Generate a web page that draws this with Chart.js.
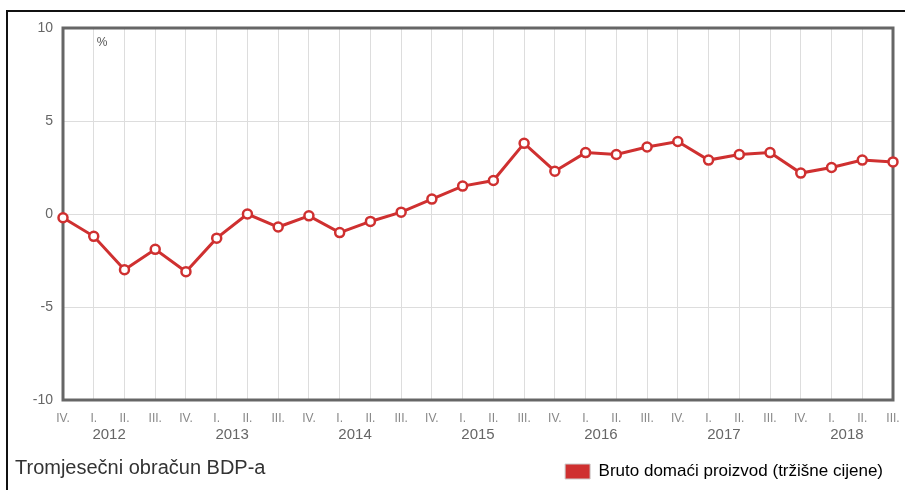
<!DOCTYPE html>
<html lang="hr">
<head>
<meta charset="UTF-8">
<title>Tromjesečni obračun BDP-a</title>
<script src="https://cdn.jsdelivr.net/npm/chart.js"></script>
<style>
    body, html {
        margin: 0;
        padding: 0;
        background: #fff;
        font-family: 'Liberation Sans', Arial, sans-serif;
    }
    .frame {
        position: absolute;
        left: 6px;
        top: 10px;
        width: 905px;
        height: 490px;
        border-top: 2px solid #111;
        border-left: 2px solid #111;
    }
    .wrap {
        position: absolute;
        left: 0;
        top: 0;
        width: 905px;
        height: 490px;
    }
    .title {
        position: absolute;
        left: 15px;
        top: 456px;
        font-size: 20px;
        color: #333;
    }
</style>
</head>
<body>
<div class="frame"></div>
<div class="wrap"><canvas id="bdpChart"></canvas></div>
<div class="title">Tromjesečni obračun BDP-a</div>

<script>
    // kvartali od IV. 2011 do III. 2018
    const quarters = ['IV.', 'I.', 'II.', 'III.', 'IV.', 'I.', 'II.', 'III.', 'IV.', 'I.', 'II.', 'III.', 'IV.',
        'I.', 'II.', 'III.', 'IV.', 'I.', 'II.', 'III.', 'IV.', 'I.', 'II.', 'III.', 'IV.', 'I.', 'II.', 'III.'];
    const years = ['2012', '2013', '2014', '2015', '2016', '2017', '2018'];
    const bdp = [-0.2, -1.2, -3.0, -1.9, -3.1, -1.3, 0.0, -0.7, -0.1, -1.0, -0.4, 0.1, 0.8,
        1.5, 1.8, 3.8, 2.3, 3.3, 3.2, 3.6, 3.9, 2.9, 3.2, 3.3, 2.2, 2.5, 2.9, 2.8];
    const yTicks = [-10, -5, 0, 5, 10];
    const seriesName = 'Bruto domaći proizvod (tržišne cijene)';

    const red = '#cf3030';
    const font = "'Liberation Sans', Arial, sans-serif";

    // okvir, godine i oznaka %
    const extras = {
        id: 'extras',
        beforeDatasetsDraw(chart) {
            const { ctx, chartArea: a } = chart;
            ctx.save();
            ctx.strokeStyle = '#666';
            ctx.lineWidth = 3;
            ctx.strokeRect(a.left, a.top, a.right - a.left, a.bottom - a.top);
            ctx.restore();
        },
        afterDraw(chart) {
            const { ctx, chartArea: a } = chart;
            const x = chart.scales.x;
            ctx.save();
            ctx.fillStyle = '#666';
            ctx.font = '15px ' + font;
            ctx.textAlign = 'center';
            ctx.textBaseline = 'middle';
            years.forEach((yr, i) => {
                const i1 = 1 + i * 4;
                const px = (x.getPixelForValue(i1) + x.getPixelForValue(i1 + 1)) / 2;
                ctx.fillText(yr, px, a.bottom + 35);
            });
            ctx.fillStyle = '#555';
            ctx.font = '12px ' + font;
            ctx.fillText('%', a.left + 39, a.top + 15);
            ctx.restore();
        }
    };

    new Chart(document.getElementById('bdpChart'), {
        type: 'line',
        data: {
            labels: quarters,
            datasets: [{
                label: seriesName,
                data: bdp,
                borderColor: red,
                backgroundColor: red,
                borderWidth: 3,
                pointRadius: 4.5,
                pointBorderWidth: 2.5,
                pointBackgroundColor: '#fff',
                pointBorderColor: red,
                tension: 0,
                clip: false
            }]
        },
        options: {
            responsive: true,
            maintainAspectRatio: false,
            animation: false,
            layout: { padding: { top: 28, right: 12, bottom: 0, left: 0 } },
            plugins: {
                title: { display: false },
                tooltip: { enabled: false },
                legend: {
                    position: 'bottom',
                    align: 'end',
                    labels: {
                        boxWidth: 25,
                        boxHeight: 15,
                        padding: 10,
                        color: '#666',
                        font: { family: font, size: 17 },
                        generateLabels: (chart) => [{
                            text: seriesName,
                            fillStyle: red,
                            strokeStyle: '#ccc',
                            lineWidth: 1,
                            datasetIndex: 0
                        }]
                    }
                }
            },
            scales: {
                x: {
                    offset: false,
                    afterFit: (s) => {
                        s.height = 53;
                        s.paddingLeft = 0;
                        s.paddingRight = 0;
                    },
                    grid: { color: '#ddd', drawTicks: false },
                    border: { display: false },
                    ticks: {
                        color: '#888',
                        font: { family: font, size: 12 },
                        padding: 11,
                        maxRotation: 0,
                        autoSkip: false
                    }
                },
                y: {
                    min: -10,
                    max: 10,
                    afterFit: (s) => { s.width = 63; },
                    afterBuildTicks: (s) => { s.ticks = yTicks.map(v => ({ value: v })); },
                    grid: { color: '#ddd', drawTicks: false },
                    border: { display: false },
                    ticks: {
                        color: '#666',
                        font: { family: font, size: 14 },
                        padding: 10
                    }
                }
            }
        },
        plugins: [extras]
    });
</script>
</body>
</html>
